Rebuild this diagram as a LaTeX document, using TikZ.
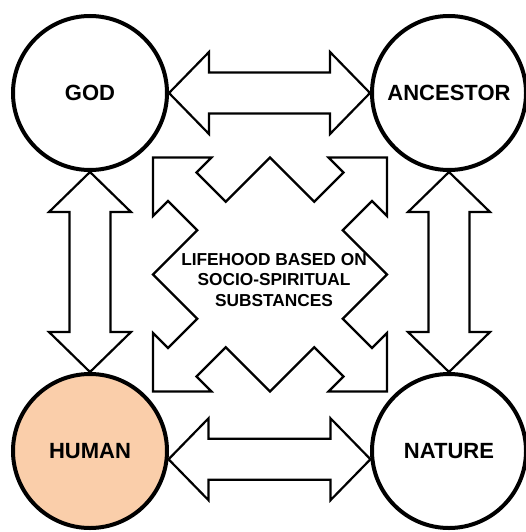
\documentclass[tikz,border=0pt]{standalone}
\usepackage{fontspec}
\setmainfont{Liberation Sans}
\usetikzlibrary{calc}

\definecolor{peach}{RGB}{250,206,170}

\tikzset{
    world/.style={circle, draw, line width=4pt, minimum size=154pt, inner sep=0pt,
        font=\fontsize{22}{26}\selectfont\bfseries},
    fat arrow/.style={draw, line width=2.2pt, line join=miter},
}

% fat double arrow between two anchors
\newcommand{\fatarrow}[2]{%
    \draw[fat arrow] (#1)
        -- ($(#1)!40pt!(#2)!41pt!90:(#2)$)
        -- ($(#1)!40pt!(#2)!20.5pt!90:(#2)$)
        -- ($(#2)!40pt!(#1)!20.5pt!-90:(#1)$)
        -- ($(#2)!40pt!(#1)!41pt!-90:(#1)$)
        -- (#2)
        -- ($(#2)!40pt!(#1)!41pt!90:(#1)$)
        -- ($(#2)!40pt!(#1)!20.5pt!90:(#1)$)
        -- ($(#1)!40pt!(#2)!20.5pt!-90:(#2)$)
        -- ($(#1)!40pt!(#2)!41pt!-90:(#2)$)
        -- cycle;}

\begin{document}
\begin{tikzpicture}[x=1pt, y=-1pt]
    \useasboundingbox (0,0) rectangle (526,532);

    % Define points
    \coordinate (hub) at (270,274.5);

    % Circles
    \node[world] (GOD) at (90,93) {GOD};
    \node[world] (ANCESTOR) at (449,93) {ANCESTOR};
    \node[world, fill=peach] (HUMAN) at (90,451) {HUMAN};
    \node[world] (NATURE) at (449,451) {NATURE};

    % Draw double arrows
    \fatarrow{GOD.east}{ANCESTOR.west}
    \fatarrow{GOD.south}{HUMAN.north}
    \fatarrow{ANCESTOR.south}{NATURE.north}
    \fatarrow{HUMAN.-6}{NATURE.186}

    % Draw four-corner arrow
    \begin{scope}[shift={(hub)}]
        \draw[fat arrow] (-117,-117) -- (-58.5,-117) -- (-73.5,-102) -- (-44.25,-72.75)
            -- (0,-117) -- (44.25,-72.75) -- (73.5,-102) -- (58.5,-117)
            -- (117,-117) -- (117,-58.5) -- (102,-73.5) -- (72.75,-44.25)
            -- (117,0) -- (72.75,44.25) -- (102,73.5) -- (117,58.5)
            -- (117,117) -- (58.5,117) -- (73.5,102) -- (44.25,72.75)
            -- (0,117) -- (-44.25,72.75) -- (-73.5,102) -- (-58.5,117)
            -- (-117,117) -- (-117,58.5) -- (-102,73.5) -- (-72.75,44.25)
            -- (-117,0) -- (-72.75,-44.25) -- (-102,-73.5) -- (-117,-58.5)
            -- cycle;
    \end{scope}

    % Labels
    \node[align=center, font=\fontsize{17.3}{20.5}\selectfont\bfseries] (life) at (274,280)
        {LIFEHOOD BASED ON\\SOCIO-SPIRITUAL\\SUBSTANCES};
\end{tikzpicture}
\end{document}
